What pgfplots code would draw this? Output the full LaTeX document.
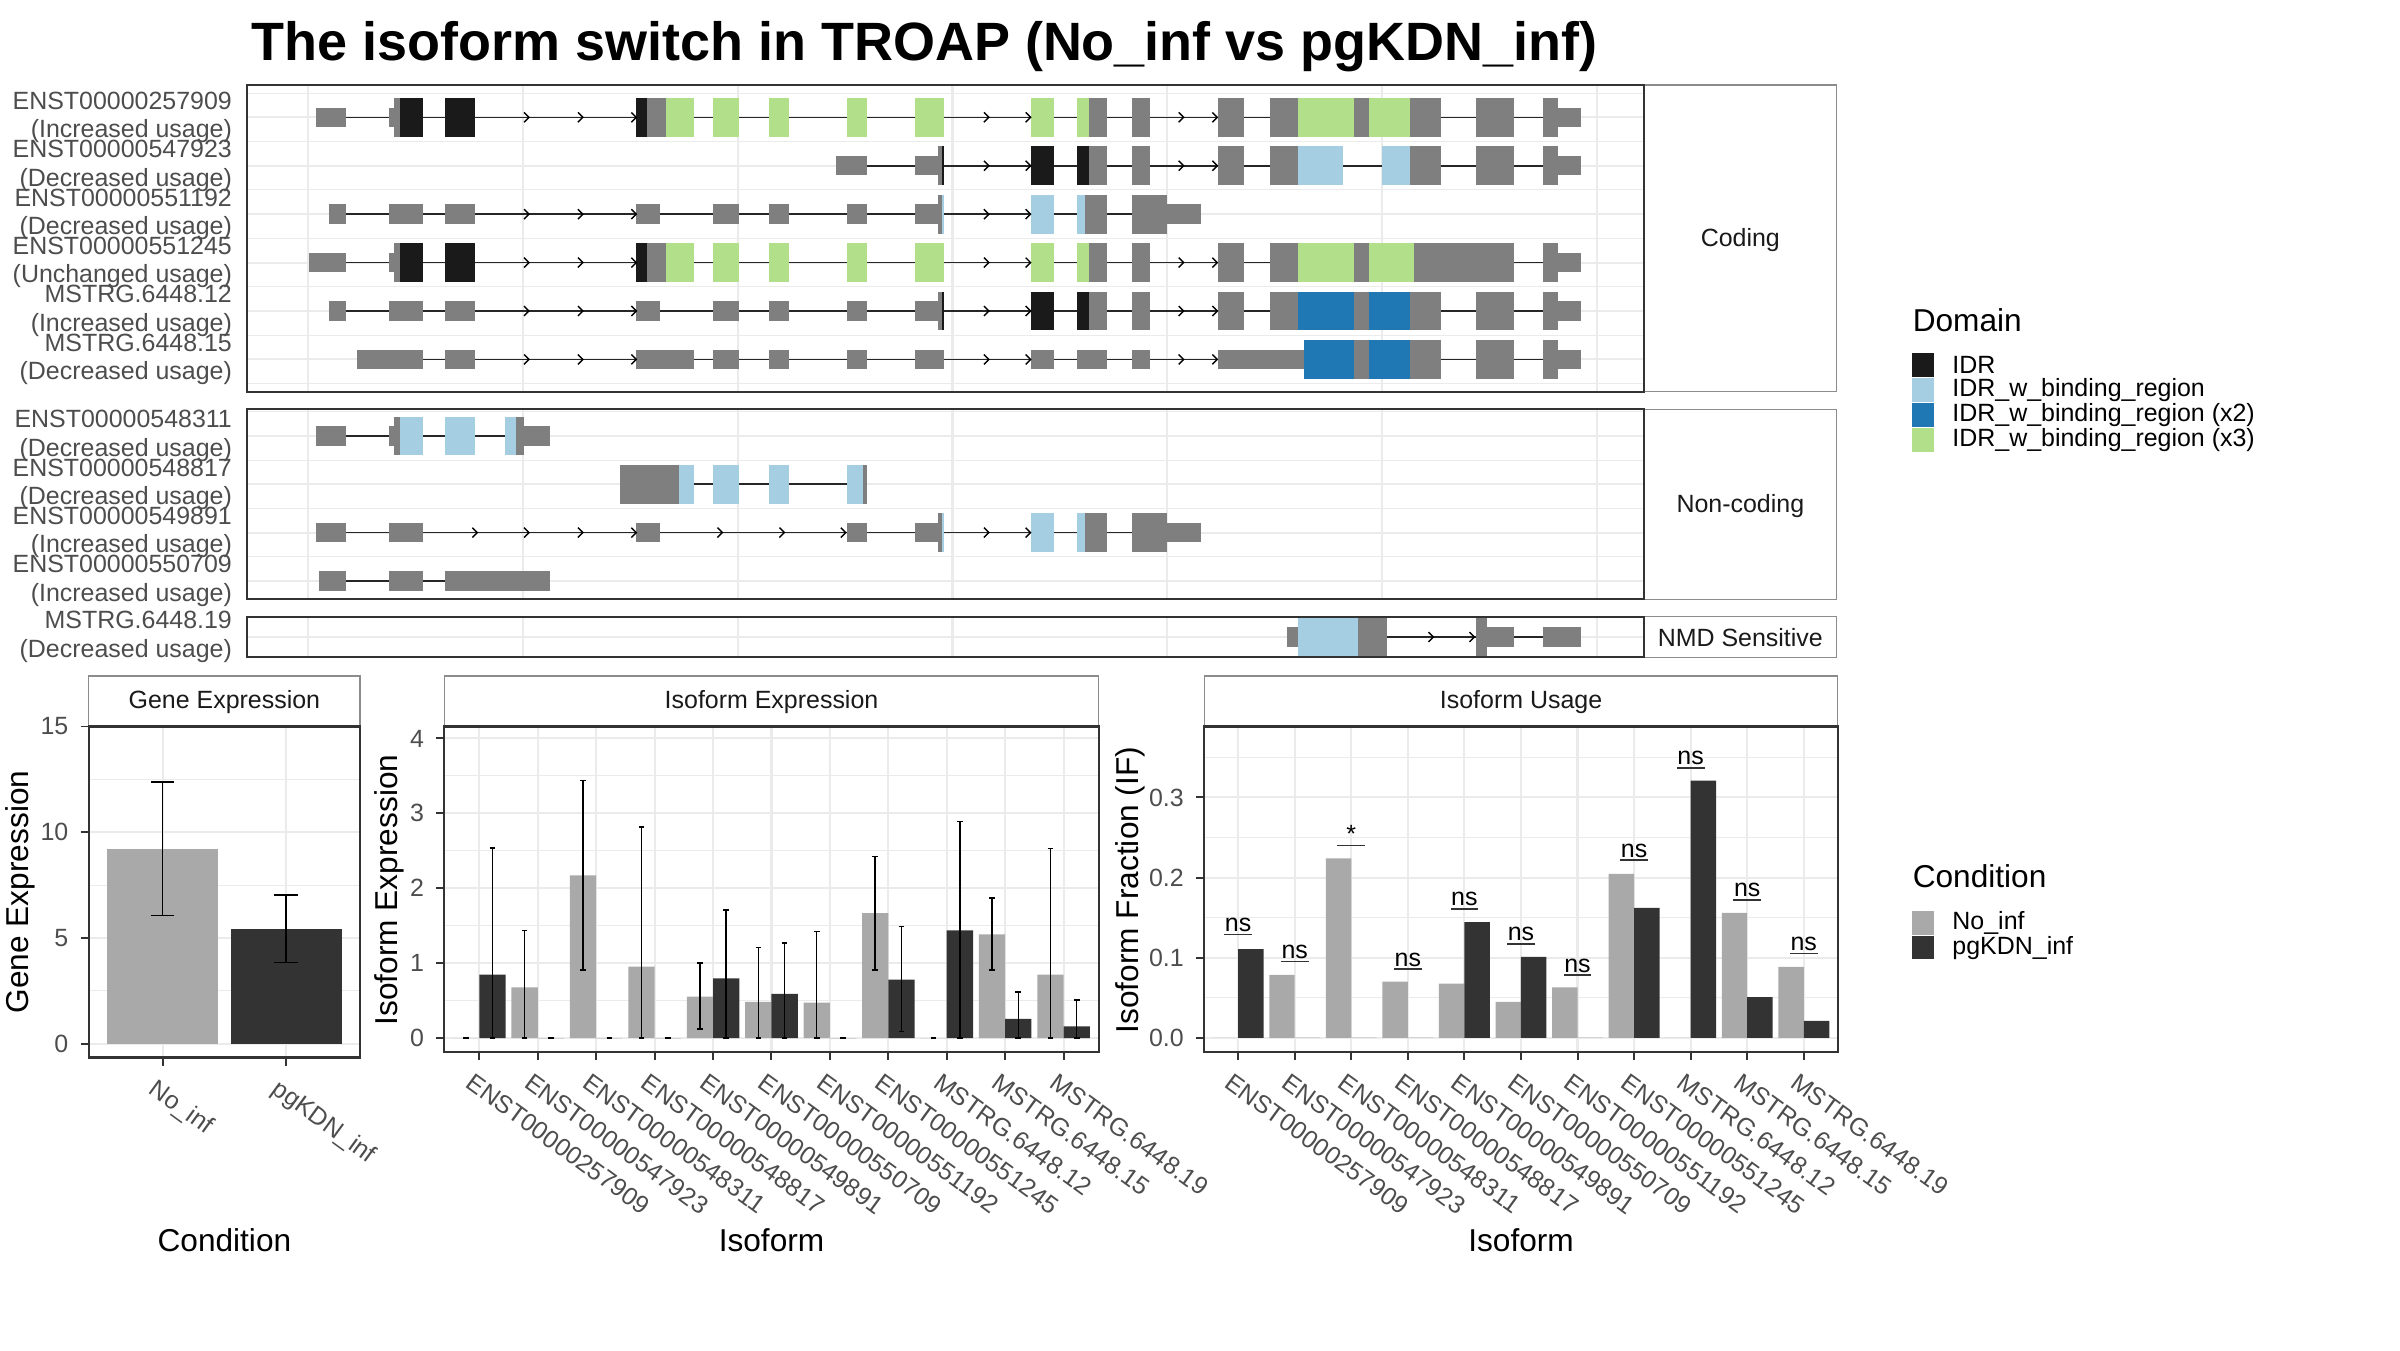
\documentclass[border=0pt]{standalone}
\usepackage{fontspec}
\setmainfont{Liberation Sans}
\usepackage{pgfplots}
\usepackage{pgfplotstable}
\pgfplotsset{compat=1.18}

\definecolor{exg}{HTML}{7F7F7F}
\definecolor{idr}{HTML}{1A1A1A}
\definecolor{b1}{HTML}{A6CEE3}
\definecolor{b2}{HTML}{1F78B4}
\definecolor{g3}{HTML}{B2DF8A}
\definecolor{noinf}{HTML}{A9A9A9}
\definecolor{pgkdn}{HTML}{333333}
\definecolor{grey20}{HTML}{333333}
\definecolor{grey30}{HTML}{4D4D4D}
\definecolor{grid92}{HTML}{EBEBEB}
\definecolor{stripline}{HTML}{8C8C8C}

\newcommand\ftick{\fontsize{7.1}{8.07}\selectfont}
\newcommand\flab{\fontsize{9}{10.8}\selectfont}
\newcommand\fmain{\bfseries\fontsize{15.35}{18}\selectfont}

% exon: x0, x1, row, half height, colour
\def\U{0.2}
\def\C{0.4}
\newcommand{\ex}[5]{%
  \pgfmathsetmacro{\ylo}{#3-#4}\pgfmathsetmacro{\yhi}{#3+#4}%
  \addplot[fill=#5, draw=none] coordinates {(#1,\ylo) (#2,\ylo) (#2,\yhi) (#1,\yhi)} --cycle;}
\newcommand{\intron}[3]{\addplot[black!85, line width=0.45pt] coordinates {(#1,#3) (#2,#3)};}

\pgfdeclareplotmark{chev}{%
  \pgfpathmoveto{\pgfqpoint{-0.6\pgfplotmarksize}{\pgfplotmarksize}}%
  \pgfpathlineto{\pgfqpoint{0.4\pgfplotmarksize}{0pt}}%
  \pgfpathlineto{\pgfqpoint{-0.6\pgfplotmarksize}{-\pgfplotmarksize}}%
  \pgfusepathqstroke}

\pgfplotsset{
  gg/.style={
    scale only axis, anchor=south west,
    axis line style={grey20, line width=0.6pt},
    major grid style={grid92, line width=0.6pt},
    minor grid style={grid92, line width=0.3pt},
    tick style={grey20, line width=0.55pt},
    tick align=outside, tick pos=left,
    major tick length=0.8mm, minor tick length=0pt,
    tick label style={font=\ftick, text=grey30},
    /pgf/number format/assume math mode=true,
  },
  tx/.style={gg, width=139.7mm, xmin=246.8, xmax=1643.8, y dir=reverse,
    xtick={308.2,522.95,737.7,952.45,1167.2,1381.95,1596.7}, xticklabels={},
    xmajorgrids, ymajorgrids, yminorgrids, major tick length=0pt,
    yticklabel style={align=right, xshift=-0.25mm},
  },
  arr/.style={only marks, mark=chev, mark size=1.4pt, mark options={black, line width=0.4pt}},
  rot/.style={xticklabel style={rotate=-36, anchor=north west, inner sep=0pt, xshift=0.3mm, yshift=-1.2mm}},
  eb/.style={error bars/.cd, y dir=both, y explicit,
    error bar style={draw=black, line width=0.4pt},
    error mark options={rotate=90, draw=black, line width=0.4pt, mark size=#1}},
}

\pgfplotstableread{
x  noinf  np     nm     pg     pp     pm
1  0      0      0      0.846  1.690  0.846
2  0.677  0.757  0.677  0      0      0
3  2.170  1.270  1.260  0      0      0
4  0.954  1.866  0.954  0      0      0
5  0.554  0.446  0.434  0.795  0.915  0.795
6  0.482  0.728  0.482  0.590  0.680  0.590
7  0.472  0.948  0.472  0      0      0
8  1.667  0.753  0.757  0.780  0.710  0.690
9  0      0      0      1.436  1.454  1.436
10 1.385  0.485  0.475  0.256  0.359  0.256
11 0.846  1.684  0.846  0.154  0.354  0.154
}\isoexp

\pgfplotstableread{
x  noinf   pg      sig     lab
1  0       0.1107  0.129   ns
2  0.0788  0       0.0955  ns
3  0.224   0       0.240   *
4  0.0702  0       0.0859  ns
5  0.0678  0.1446  0.161   ns
6  0.0449  0.1012  0.1174  ns
7  0.0630  0       0.0783  ns
8  0.2048  0.1623  0.2215  ns
9  0       0.3208  0.337   ns
10 0.156   0.0511  0.1723  ns
11 0.0888  0.0215  0.1055  ns
}\isouse

\begin{document}
\begin{tikzpicture}
\useasboundingbox (0,0) rectangle (240mm,-135mm);

\begin{scope}[x=0.1mm,y=0.1mm]
  \node[anchor=base west, inner sep=0pt, font=\fmain] at (251,-60) {The isoform switch in TROAP (No\_inf vs pgKDN\_inf)};
  % facet strips
  \draw[stripline, line width=0.4pt, fill=white] (1643.8,-85) rectangle (1836.7,-391.7);
  \draw[stripline, line width=0.4pt, fill=white] (1643.8,-409.3) rectangle (1836.7,-599.3);
  \draw[stripline, line width=0.4pt, fill=white] (1643.8,-616.7) rectangle (1836.7,-657.3);
  \node[font=\ftick, text=idr] at (1740.3,-240) {Coding};
  \node[font=\ftick, text=idr] at (1740.3,-506) {Non-coding};
  \node[font=\ftick, text=idr] at (1740.3,-638) {NMD Sensitive};
  \draw[stripline, line width=0.4pt, fill=white] (88.7,-675.8) rectangle (360,-726.5);
  \draw[stripline, line width=0.4pt, fill=white] (444.3,-675.8) rectangle (1098.6,-726.5);
  \draw[stripline, line width=0.4pt, fill=white] (1204.2,-675.8) rectangle (1837.7,-726.5);
  \node[font=\ftick, text=idr] at (224.4,-702.5) {Gene Expression};
  \node[font=\ftick, text=idr] at (771.5,-702.5) {Isoform Expression};
  \node[font=\ftick, text=idr] at (1521,-702.5) {Isoform Usage};
\end{scope}

% ---------------- coding transcripts
\begin{axis}[tx, at={(24.68mm,-39.17mm)}, height=30.67mm, ymin=0.333, ymax=6.667,
  ytick={1,2,3,4,5,6}, minor ytick={0.5,1.5,2.5,3.5,4.5,5.5,6.5},
  yticklabels={{ENST00000257909\\(Increased usage)},{ENST00000547923\\(Decreased usage)},
    {ENST00000551192\\(Decreased usage)},{ENST00000551245\\(Unchanged usage)},
    {MSTRG.6448.12\\(Increased usage)},{MSTRG.6448.15\\(Decreased usage)}}]
% row 1
\intron{316.3}{1581.4}{1}
\ex{316.3}{346.1}{1}{\U}{exg}
\ex{389.2}{393.8}{1}{\U}{exg}
\ex{393.8}{400.1}{1}{\C}{exg}
\ex{400.1}{423.0}{1}{\C}{idr}
\ex{444.9}{475.3}{1}{\C}{idr}
\ex{636.0}{646.9}{1}{\C}{idr}
\ex{646.9}{665.8}{1}{\C}{exg}
\ex{665.8}{694.0}{1}{\C}{g3}
\ex{712.9}{738.7}{1}{\C}{g3}
\ex{769.2}{788.7}{1}{\C}{g3}
\ex{847.2}{867.3}{1}{\C}{g3}
\ex{914.7}{944.1}{1}{\C}{g3}
\ex{1031.0}{1054.3}{1}{\C}{g3}
\ex{1076.9}{1089.2}{1}{\C}{g3}
\ex{1089.2}{1106.9}{1}{\C}{exg}
\ex{1132.0}{1149.8}{1}{\C}{exg}
\ex{1217.7}{1244.1}{1}{\C}{exg}
\ex{1269.8}{1297.9}{1}{\C}{exg}
\ex{1297.9}{1354.3}{1}{\C}{g3}
\ex{1354.3}{1368.9}{1}{\C}{exg}
\ex{1368.9}{1410.0}{1}{\C}{g3}
\ex{1410.0}{1441.2}{1}{\C}{exg}
\ex{1476.1}{1514.0}{1}{\C}{exg}
\ex{1542.8}{1558.1}{1}{\C}{exg}
\ex{1558.1}{1581.4}{1}{\U}{exg}
\addplot[arr] coordinates {(527.0,1) (580.9,1) (634.3,1) (986.9,1) (1028.6,1) (1181.6,1) (1215.3,1)};
% row 2
\intron{835.7}{1581.4}{2}
\ex{835.7}{867.3}{2}{\U}{exg}
\ex{914.7}{938.0}{2}{\U}{exg}
\ex{938.0}{942.0}{2}{\C}{exg}
\ex{942.0}{944.1}{2}{\C}{idr}
\ex{1031.0}{1054.3}{2}{\C}{idr}
\ex{1076.9}{1089.2}{2}{\C}{idr}
\ex{1089.2}{1106.9}{2}{\C}{exg}
\ex{1132.0}{1149.8}{2}{\C}{exg}
\ex{1217.7}{1244.1}{2}{\C}{exg}
\ex{1269.8}{1297.9}{2}{\C}{exg}
\ex{1297.9}{1342.6}{2}{\C}{b1}
\ex{1381.8}{1410.0}{2}{\C}{b1}
\ex{1410.0}{1441.2}{2}{\C}{exg}
\ex{1476.1}{1514.0}{2}{\C}{exg}
\ex{1542.8}{1558.1}{2}{\C}{exg}
\ex{1558.1}{1581.4}{2}{\U}{exg}
\addplot[arr] coordinates {(986.9,2) (1028.6,2) (1181.6,2) (1215.3,2)};
% row 3
\intron{328.9}{1201.2}{3}
\ex{328.9}{346.1}{3}{\U}{exg}
\ex{389.2}{423.0}{3}{\U}{exg}
\ex{444.9}{475.3}{3}{\U}{exg}
\ex{636.0}{660.1}{3}{\U}{exg}
\ex{712.9}{738.7}{3}{\U}{exg}
\ex{769.2}{788.7}{3}{\U}{exg}
\ex{847.2}{867.3}{3}{\U}{exg}
\ex{914.7}{938.0}{3}{\U}{exg}
\ex{938.0}{941.5}{3}{\C}{exg}
\ex{941.5}{944.1}{3}{\C}{b1}
\ex{1031.0}{1054.3}{3}{\C}{b1}
\ex{1076.9}{1084.9}{3}{\C}{b1}
\ex{1084.9}{1106.9}{3}{\C}{exg}
\ex{1132.0}{1166.9}{3}{\C}{exg}
\ex{1166.9}{1201.2}{3}{\U}{exg}
\addplot[arr] coordinates {(527.0,3) (580.9,3) (634.3,3) (986.9,3) (1028.6,3)};
% row 4
\intron{308.8}{1581.4}{4}
\ex{308.8}{346.1}{4}{\U}{exg}
\ex{389.2}{393.8}{4}{\U}{exg}
\ex{393.8}{400.1}{4}{\C}{exg}
\ex{400.1}{423.0}{4}{\C}{idr}
\ex{444.9}{475.3}{4}{\C}{idr}
\ex{636.0}{646.9}{4}{\C}{idr}
\ex{646.9}{665.8}{4}{\C}{exg}
\ex{665.8}{694.0}{4}{\C}{g3}
\ex{712.9}{738.7}{4}{\C}{g3}
\ex{769.2}{788.7}{4}{\C}{g3}
\ex{847.2}{867.3}{4}{\C}{g3}
\ex{914.7}{944.1}{4}{\C}{g3}
\ex{1031.0}{1054.3}{4}{\C}{g3}
\ex{1076.9}{1089.2}{4}{\C}{g3}
\ex{1089.2}{1106.9}{4}{\C}{exg}
\ex{1132.0}{1149.8}{4}{\C}{exg}
\ex{1217.7}{1244.1}{4}{\C}{exg}
\ex{1269.8}{1297.9}{4}{\C}{exg}
\ex{1297.9}{1354.3}{4}{\C}{g3}
\ex{1354.3}{1368.9}{4}{\C}{exg}
\ex{1368.9}{1414.2}{4}{\C}{g3}
\ex{1414.2}{1514.0}{4}{\C}{exg}
\ex{1542.8}{1558.1}{4}{\C}{exg}
\ex{1558.1}{1581.4}{4}{\U}{exg}
\addplot[arr] coordinates {(527.0,4) (580.9,4) (634.3,4) (986.9,4) (1028.6,4) (1181.6,4) (1215.3,4)};
% row 5
\intron{328.9}{1581.4}{5}
\ex{328.9}{346.1}{5}{\U}{exg}
\ex{389.2}{423.0}{5}{\U}{exg}
\ex{444.9}{475.3}{5}{\U}{exg}
\ex{636.0}{660.1}{5}{\U}{exg}
\ex{712.9}{738.7}{5}{\U}{exg}
\ex{769.2}{788.7}{5}{\U}{exg}
\ex{847.2}{867.3}{5}{\U}{exg}
\ex{914.7}{938.0}{5}{\U}{exg}
\ex{938.0}{942.0}{5}{\C}{exg}
\ex{942.0}{944.1}{5}{\C}{idr}
\ex{1031.0}{1054.3}{5}{\C}{idr}
\ex{1076.9}{1089.2}{5}{\C}{idr}
\ex{1089.2}{1106.9}{5}{\C}{exg}
\ex{1132.0}{1149.8}{5}{\C}{exg}
\ex{1217.7}{1244.1}{5}{\C}{exg}
\ex{1269.8}{1297.9}{5}{\C}{exg}
\ex{1297.9}{1354.3}{5}{\C}{b2}
\ex{1354.3}{1368.9}{5}{\C}{exg}
\ex{1368.9}{1410.0}{5}{\C}{b2}
\ex{1410.0}{1441.2}{5}{\C}{exg}
\ex{1476.1}{1514.0}{5}{\C}{exg}
\ex{1542.8}{1558.1}{5}{\C}{exg}
\ex{1558.1}{1581.4}{5}{\U}{exg}
\addplot[arr] coordinates {(527.0,5) (580.9,5) (634.3,5) (986.9,5) (1028.6,5) (1181.6,5) (1215.3,5)};
% row 6
\intron{357.0}{1581.4}{6}
\ex{357.0}{423.0}{6}{\U}{exg}
\ex{444.9}{475.3}{6}{\U}{exg}
\ex{636.0}{694.0}{6}{\U}{exg}
\ex{712.9}{738.7}{6}{\U}{exg}
\ex{769.2}{788.7}{6}{\U}{exg}
\ex{847.2}{867.3}{6}{\U}{exg}
\ex{914.7}{944.1}{6}{\U}{exg}
\ex{1031.0}{1054.3}{6}{\U}{exg}
\ex{1076.9}{1106.9}{6}{\U}{exg}
\ex{1132.0}{1149.8}{6}{\U}{exg}
\ex{1217.7}{1304.1}{6}{\U}{exg}
\ex{1304.1}{1354.3}{6}{\C}{b2}
\ex{1354.3}{1368.9}{6}{\C}{exg}
\ex{1368.9}{1410.0}{6}{\C}{b2}
\ex{1410.0}{1441.2}{6}{\C}{exg}
\ex{1476.1}{1514.0}{6}{\C}{exg}
\ex{1542.8}{1558.1}{6}{\C}{exg}
\ex{1558.1}{1581.4}{6}{\U}{exg}
\addplot[arr] coordinates {(527.0,6) (580.9,6) (634.3,6) (986.9,6) (1028.6,6) (1181.6,6) (1215.3,6)};
\end{axis}

% ---------------- non-coding transcripts
\begin{axis}[tx, at={(24.68mm,-59.93mm)}, height=19.0mm, ymin=0.45, ymax=4.38,
  ytick={1,2,3,4}, minor ytick={0.5,1.5,2.5,3.5},
  yticklabels={{ENST00000548311\\(Decreased usage)},{ENST00000548817\\(Decreased usage)},
    {ENST00000549891\\(Increased usage)},{ENST00000550709\\(Increased usage)}}]
% row 1
\intron{316.3}{549.9}{1}
\ex{316.3}{346.1}{1}{\U}{exg}
\ex{389.2}{393.8}{1}{\U}{exg}
\ex{393.8}{400.1}{1}{\C}{exg}
\ex{400.1}{423.0}{1}{\C}{b1}
\ex{444.9}{475.3}{1}{\C}{b1}
\ex{505.1}{516.0}{1}{\C}{b1}
\ex{516.0}{523.5}{1}{\C}{exg}
\ex{523.5}{549.9}{1}{\U}{exg}
% row 2
\intron{620.0}{867.3}{2}
\ex{620.0}{679.0}{2}{\C}{exg}
\ex{679.0}{694.0}{2}{\C}{b1}
\ex{712.9}{738.7}{2}{\C}{b1}
\ex{769.2}{788.7}{2}{\C}{b1}
\ex{847.2}{862.7}{2}{\C}{b1}
\ex{862.7}{867.3}{2}{\C}{exg}
% row 3
\intron{316.3}{1201.2}{3}
\ex{316.3}{346.1}{3}{\U}{exg}
\ex{389.2}{423.0}{3}{\U}{exg}
\ex{636.0}{660.1}{3}{\U}{exg}
\ex{847.2}{867.3}{3}{\U}{exg}
\ex{914.7}{938.0}{3}{\U}{exg}
\ex{938.0}{941.5}{3}{\C}{exg}
\ex{941.5}{944.1}{3}{\C}{b1}
\ex{1031.0}{1054.3}{3}{\C}{b1}
\ex{1076.9}{1084.9}{3}{\C}{b1}
\ex{1084.9}{1106.9}{3}{\C}{exg}
\ex{1132.0}{1166.9}{3}{\C}{exg}
\ex{1166.9}{1201.2}{3}{\U}{exg}
\addplot[arr] coordinates {(475.3,3) (527.0,3) (580.9,3) (634.3,3) (720.4,3) (782.4,3) (843.8,3) (986.9,3) (1028.6,3)};
% row 4
\intron{318.6}{549.9}{4}
\ex{318.6}{346.1}{4}{\U}{exg}
\ex{389.2}{423.0}{4}{\U}{exg}
\ex{444.9}{549.9}{4}{\U}{exg}
\end{axis}

% ---------------- NMD sensitive
\begin{axis}[tx, at={(24.68mm,-65.73mm)}, height=4.06mm, ymin=0.58, ymax=1.42,
  ytick={1}, minor ytick={}, yticklabels={{MSTRG.6448.19\\(Decreased usage)}}]
\intron{1286.9}{1581.4}{1}
\ex{1286.9}{1297.9}{1}{\U}{exg}
\ex{1297.9}{1357.9}{1}{\C}{b1}
\ex{1357.9}{1387.3}{1}{\C}{exg}
\ex{1476.1}{1486.5}{1}{\C}{exg}
\ex{1486.5}{1514.0}{1}{\U}{exg}
\ex{1542.8}{1581.4}{1}{\U}{exg}
\addplot[arr] coordinates {(1431.4,1) (1472.4,1)};
\end{axis}

% ---------------- gene expression
\begin{axis}[gg, rot, at={(8.87mm,-105.75mm)}, width=27.13mm, height=33.1mm,
  xmin=0.4, xmax=2.6, ymin=-0.647, ymax=15,
  xtick={1,2}, xticklabels={No\_inf,pgKDN\_inf},
  ytick={0,5,10,15}, minor ytick={2.5,7.5,12.5},
  xmajorgrids, ymajorgrids, yminorgrids]
\addplot[ybar, bar width=0.9, bar shift=0, fill=noinf, draw=none, eb=3.3pt]
  coordinates {(1,9.19) += (0,3.18) -= (0,3.12)};
\addplot[ybar, bar width=0.9, bar shift=0, fill=pgkdn, draw=none, eb=3.3pt]
  coordinates {(2,5.43) += (0,1.60) -= (0,1.58)};
\end{axis}

% ---------------- isoform expression
\begin{axis}[gg, rot, at={(44.43mm,-105.2mm)}, width=65.43mm, height=32.55mm,
  xmin=0.4, xmax=11.6, ymin=-0.187, ymax=4.159,
  xtick={1,...,11},
  xticklabels={ENST00000257909,ENST00000547923,ENST00000548311,ENST00000548817,
    ENST00000549891,ENST00000550709,ENST00000551192,ENST00000551245,
    MSTRG.6448.12,MSTRG.6448.15,MSTRG.6448.19},
  ytick={0,1,2,3,4}, minor ytick={0.5,1.5,2.5,3.5},
  xmajorgrids, ymajorgrids, yminorgrids]
\addplot[ybar, bar width=0.45, bar shift=0, fill=noinf, draw=none, eb=0.8pt]
  table[x expr=\thisrow{x}-0.225, y=noinf, y error plus=np, y error minus=nm] {\isoexp};
\addplot[ybar, bar width=0.45, bar shift=0, fill=pgkdn, draw=none, eb=0.8pt]
  table[x expr=\thisrow{x}+0.225, y=pg, y error plus=pp, y error minus=pm] {\isoexp};
\end{axis}

% ---------------- isoform usage
\begin{axis}[gg, rot, at={(120.42mm,-105.2mm)}, width=63.35mm, height=32.55mm,
  xmin=0.4, xmax=11.6, ymin=-0.0175, ymax=0.3884,
  xtick={1,...,11},
  xticklabels={ENST00000257909,ENST00000547923,ENST00000548311,ENST00000548817,
    ENST00000549891,ENST00000550709,ENST00000551192,ENST00000551245,
    MSTRG.6448.12,MSTRG.6448.15,MSTRG.6448.19},
  ytick={0,0.1,0.2,0.3}, minor ytick={0.05,0.15,0.25,0.35},
  yticklabel style={/pgf/number format/.cd, fixed, fixed zerofill, precision=1},
  xmajorgrids, ymajorgrids, yminorgrids]
\addplot[ybar, bar width=0.45, bar shift=0, fill=noinf, draw=none]
  table[x expr=\thisrow{x}-0.225, y=noinf] {\isouse};
\addplot[ybar, bar width=0.45, bar shift=0, fill=pgkdn, draw=none]
  table[x expr=\thisrow{x}+0.225, y=pg] {\isouse};
\addplot[only marks, mark=none, nodes near coords, point meta=explicit symbolic,
  every node near coord/.style={anchor=south, font=\ftick, text=black, inner sep=0.6pt},
  error bars/.cd, x dir=both, x fixed=0.245, error mark=none,
  error bar style={draw=grey20, line width=0.5pt}]
  table[x=x, y=sig, meta=lab] {\isouse};
\end{axis}

\begin{scope}[x=0.1mm,y=0.1mm]
  % axis titles
  \node[rotate=90, font=\flab] at (20.7,-892) {Gene Expression};
  \node[rotate=90, font=\flab] at (389.7,-890) {Isoform Expression};
  \node[rotate=90, font=\flab] at (1130,-890) {Isoform Fraction (IF)};
  \node[font=\flab] at (224.4,-1240) {Condition};
  \node[font=\flab] at (771.5,-1240) {Isoform};
  \node[font=\flab] at (1521,-1240) {Isoform};
  % domain legend
  \node[anchor=west, inner sep=0pt, font=\flab] at (1912,-320.4) {Domain};
  \fill[idr] (1912,-353) rectangle (1934,-377);
  \fill[b1]  (1912,-378) rectangle (1934,-402);
  \fill[b2]  (1912,-403) rectangle (1934,-427);
  \fill[g3]  (1912,-428) rectangle (1934,-452);
  \node[anchor=west, inner sep=0pt, font=\ftick] at (1951.7,-365) {IDR};
  \node[anchor=west, inner sep=0pt, font=\ftick] at (1951.7,-390) {IDR\_w\_binding\_region};
  \node[anchor=west, inner sep=0pt, font=\ftick] at (1951.7,-415) {IDR\_w\_binding\_region (x2)};
  \node[anchor=west, inner sep=0pt, font=\ftick] at (1951.7,-440) {IDR\_w\_binding\_region (x3)};
  % condition legend
  \node[anchor=west, inner sep=0pt, font=\flab] at (1912,-876) {Condition};
  \fill[noinf] (1912,-911) rectangle (1934,-934.5);
  \fill[pgkdn] (1912,-936) rectangle (1934,-959.2);
  \node[anchor=west, inner sep=0pt, font=\ftick] at (1951.7,-923) {No\_inf};
  \node[anchor=west, inner sep=0pt, font=\ftick] at (1951.7,-948) {pgKDN\_inf};
\end{scope}
\end{tikzpicture}
\end{document}
